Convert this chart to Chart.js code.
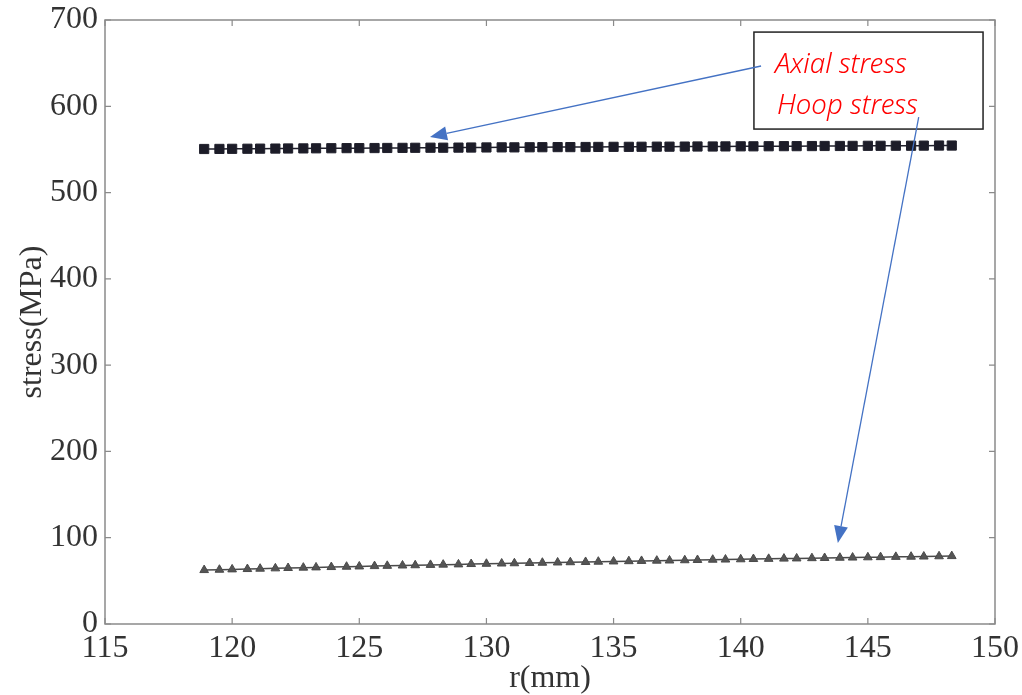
<!DOCTYPE html>
<html>
<head>
<meta charset="utf-8">
<script src="https://cdn.jsdelivr.net/npm/chart.js@4/dist/chart.umd.min.js"></script>
<style>
html,body{margin:0;padding:0;background:#fff;}
#wrap{width:1022px;height:695px;}
</style>
</head>
<body>
<div id="wrap"><canvas id="c" width="1022" height="695"></canvas></div>
<script>
// r (mm)
const rValues = [118.9,119.5,120.0,120.6,121.1,121.7,122.2,122.8,123.3,123.9,
  124.5,125.0,125.6,126.1,126.7,127.2,127.8,128.3,128.9,129.4,
  130.0,130.6,131.1,131.7,132.2,132.8,133.3,133.9,134.4,135.0,
  135.6,136.1,136.7,137.2,137.8,138.3,138.9,139.4,140.0,140.5,
  141.1,141.7,142.2,142.8,143.3,143.9,144.4,145.0,145.5,146.1,
  146.7,147.2,147.8,148.3];
// Axial stress (MPa)
const axialStress = [550.5,550.6,550.7,550.8,550.9,551.0,551.1,551.2,551.3,551.4,
  551.5,551.5,551.6,551.7,551.8,551.9,552.0,552.0,552.1,552.2,
  552.3,552.4,552.4,552.5,552.6,552.7,552.7,552.8,552.9,553.0,
  553.0,553.1,553.2,553.2,553.3,553.4,553.4,553.5,553.6,553.6,
  553.7,553.8,553.8,553.9,554.0,554.0,554.1,554.2,554.2,554.3,
  554.3,554.4,554.5,554.5];
// Hoop stress (MPa)
const hoopStress = [62.5,62.9,63.3,63.7,64.1,64.5,64.9,65.3,65.6,66.0,
  66.4,66.7,67.1,67.4,67.8,68.1,68.5,68.8,69.1,69.5,
  69.8,70.1,70.4,70.7,71.0,71.3,71.6,71.9,72.2,72.5,
  72.8,73.1,73.4,73.6,73.9,74.2,74.5,74.7,75.0,75.3,
  75.5,75.8,76.0,76.3,76.5,76.8,77.0,77.3,77.5,77.8,
  78.0,78.2,78.5,78.7];
const xTicks = [115,120,125,130,135,140,145,150];
const yTicks = [0,100,200,300,400,500,600,700];
const seriesNames = ['Axial stress','Hoop stress'];
const xTitle = 'r(mm)';
const yTitle = 'stress(MPa)';
// annotation anchors in data coordinates
const legendBox = {x1:140.52, y1:686, x2:149.53, y2:573.6};
const arrowAxial = {from:[140.8,646.7], to:[127.78,564.4]};
const arrowHoop = {from:[147.0,587.5], to:[143.82,93.9]};

const serif = "'Liberation Serif','Times New Roman',serif";

const frame = {
  id:'frame',
  afterDraw(chart){
    const {ctx, chartArea:a, scales:{x,y}} = chart;
    ctx.save();
    ctx.strokeStyle = '#8a8a8a';
    ctx.lineWidth = 1.5;
    ctx.strokeRect(a.left, a.top, a.right-a.left, a.bottom-a.top);
    ctx.lineWidth = 1.2;
    const tl = 6;
    xTicks.forEach(v=>{
      const px = x.getPixelForValue(v);
      ctx.beginPath();
      ctx.moveTo(px,a.bottom); ctx.lineTo(px,a.bottom-tl);
      ctx.moveTo(px,a.top); ctx.lineTo(px,a.top+tl);
      ctx.stroke();
    });
    yTicks.forEach(v=>{
      const py = y.getPixelForValue(v);
      ctx.beginPath();
      ctx.moveTo(a.left,py); ctx.lineTo(a.left+tl,py);
      ctx.moveTo(a.right,py); ctx.lineTo(a.right-tl,py);
      ctx.stroke();
    });
    // annotation box
    const bx1 = x.getPixelForValue(legendBox.x1), by1 = y.getPixelForValue(legendBox.y1);
    const bx2 = x.getPixelForValue(legendBox.x2), by2 = y.getPixelForValue(legendBox.y2);
    ctx.fillStyle = '#fff';
    ctx.fillRect(bx1,by1,bx2-bx1,by2-by1);
    ctx.strokeStyle = '#222';
    ctx.lineWidth = 1.5;
    ctx.strokeRect(bx1,by1,bx2-bx1,by2-by1);
    ctx.fillStyle = '#ff0000';
    ctx.font = "italic 300 28px 'Noto Sans', sans-serif";
    ctx.textBaseline = 'alphabetic';
    ctx.textAlign = 'left';
    const fitText = (t, px, py, w) => {
      const m = ctx.measureText(t).width;
      ctx.save();
      ctx.translate(px, py);
      ctx.scale(w/m, 1);
      ctx.fillText(t, 0, 0);
      ctx.restore();
    };
    fitText(seriesNames[0], bx1+21, by1+41, 132);
    fitText(seriesNames[1], bx1+23, by1+82, 141);
    // arrows
    const drawArrow = (ar) => {
      const x0 = x.getPixelForValue(ar.from[0]), y0 = y.getPixelForValue(ar.from[1]);
      const x1 = x.getPixelForValue(ar.to[0]), y1 = y.getPixelForValue(ar.to[1]);
      const ang = Math.atan2(y1-y0, x1-x0);
      const hl = 17, hw = 7;
      const bxp = x1 - hl*Math.cos(ang), byp = y1 - hl*Math.sin(ang);
      ctx.strokeStyle = '#4472c4';
      ctx.fillStyle = '#4472c4';
      ctx.lineWidth = 1.3;
      ctx.beginPath(); ctx.moveTo(x0,y0); ctx.lineTo(bxp,byp); ctx.stroke();
      ctx.beginPath();
      ctx.moveTo(x1,y1);
      ctx.lineTo(bxp + hw*Math.sin(ang), byp - hw*Math.cos(ang));
      ctx.lineTo(bxp - hw*Math.sin(ang), byp + hw*Math.cos(ang));
      ctx.closePath(); ctx.fill();
    };
    drawArrow(arrowAxial);
    drawArrow(arrowHoop);
    ctx.restore();
  }
};

new Chart(document.getElementById('c'), {
  type:'line',
  data:{
    datasets:[
      {label:seriesNames[0], data:rValues.map((r,i)=>({x:r,y:axialStress[i]})),
       borderColor:'#20202c', backgroundColor:'#1c1c28', borderWidth:1.5,
       pointStyle:'rect', pointRadius:6.5, pointBorderWidth:1, pointBorderColor:'#20202c'},
      {label:seriesNames[1], data:rValues.map((r,i)=>({x:r,y:hoopStress[i]})),
       borderColor:'#4a4a4a', backgroundColor:'#555', borderWidth:1.5,
       pointStyle:'triangle', pointRadius:5, pointBorderWidth:1, pointBorderColor:'#4a4a4a'}
    ]
  },
  options:{
    responsive:false, animation:false, devicePixelRatio:1,
    layout:{padding:{top:20,right:27,left:0,bottom:0}},
    plugins:{legend:{display:false}, tooltip:{enabled:false}},
    scales:{
      x:{type:'linear', min:115, max:150,
        afterBuildTicks:(s)=>{s.ticks = xTicks.map(v=>({value:v}));},
        afterFit:(s)=>{s.height = 71; s.paddingLeft = 0; s.paddingRight = 0; s.paddingTop = 0; s.paddingBottom = 0;},
        grid:{display:false, drawTicks:false}, border:{display:false},
        ticks:{color:'#333', padding:5, maxRotation:0, autoSkip:false, font:{family:serif,size:32}},
        title:{display:true, text:xTitle, color:'#333', padding:{top:0,bottom:0}, font:{family:serif,size:32,lineHeight:1}}
      },
      y:{type:'linear', min:0, max:700,
        afterBuildTicks:(s)=>{s.ticks = yTicks.map(v=>({value:v}));},
        afterFit:(s)=>{s.width = 105; s.paddingLeft = 0; s.paddingRight = 0; s.paddingTop = 0; s.paddingBottom = 0;},
        grid:{display:false, drawTicks:false}, border:{display:false},
        ticks:{color:'#333', padding:7, autoSkip:false, font:{family:serif,size:32}},
        title:{display:true, text:yTitle, color:'#333', padding:{top:17,bottom:0}, font:{family:serif,size:32,lineHeight:1}}
      }
    }
  },
  plugins:[frame]
});
</script>
</body>
</html>
